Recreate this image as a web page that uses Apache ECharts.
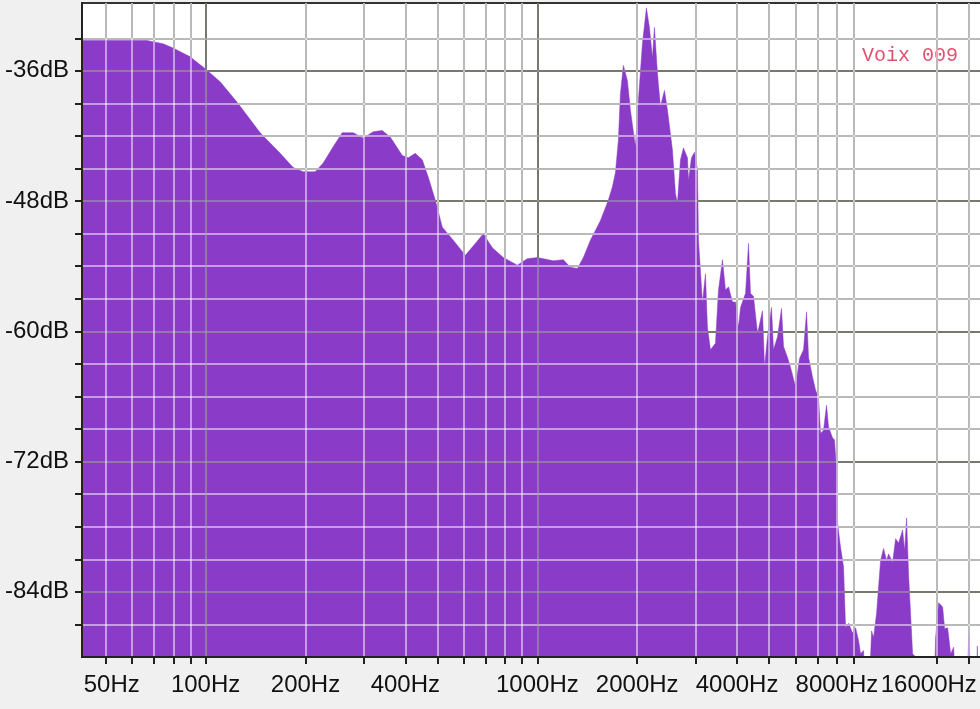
<!DOCTYPE html>
<html>
<head>
<meta charset="utf-8">
<script src="https://cdn.jsdelivr.net/npm/echarts@6/dist/echarts.min.js"></script>
<style>
html,body{margin:0;padding:0;background:#f0f0f0;}
#chart{width:980px;height:709px;}
</style>
</head>
<body>
<div id="chart"></div>
<script>
// Frequencies (Hz) and levels (dB)
var freqs = [42.4, 48, 55.2, 66.5, 74.4, 79.8, 89.8, 99.7, 110.6, 124.5, 146, 167.8, 183.6, 196.8, 213.9, 226.2, 242.4, 258.1, 278.6, 298.7, 320.1, 340.7, 360.2, 391.6, 408.3, 428.6, 449.9, 469.1, 492.4, 517, 557.8, 606.4, 650.2, 687.3, 731.7, 789.5, 870.4, 933, 1000, 1117.6, 1198, 1257.6, 1320.5, 1376.6, 1445.3, 1548.8, 1637.5, 1683, 1719, 1755, 1780, 1817, 1868.6, 1907.8, 1975, 2016.8, 2073.5, 2132, 2177, 2223, 2254, 2301.5, 2349.6, 2416, 2467, 2554, 2608, 2644, 2700, 2757, 2835, 2855, 2915, 2976, 3038.5, 3060, 3102, 3145, 3212, 3256, 3325, 3443, 3516, 3615, 3691, 3769, 3875, 3957, 4040, 4097, 4242, 4331, 4391, 4484, 4610, 4772, 4840, 4941, 5080, 5151, 5297, 5446, 5522, 5677, 5797, 6002, 6171, 6345, 6479, 6569, 6754, 6896, 7041, 7139, 7289, 7443, 7547, 7760, 7868, 7980, 8035, 8204, 8377, 8495, 8675, 8918, 9106, 9297, 9427, 9626, 9759, 9965, 10104, 10174, 10317, 10533, 10831, 11058, 11292, 11450, 11773, 12020, 12274, 12621, 12797, 12975, 13158, 13528, 13814, 14007, 15654, 15871, 16206, 16662, 16896, 17251, 17616, 17986, 18365, 19688, 19966, 20244, 20527, 21000, 21200, 21400, 22050];
var levels = [-33.2, -33.2, -33.2, -33.2, -33.5, -33.9, -34.7, -35.8, -37.0, -38.9, -41.7, -43.6, -44.9, -45.3, -45.3, -44.5, -43.0, -41.7, -41.7, -42.2, -41.6, -41.5, -42.1, -43.8, -44.0, -43.6, -44.2, -45.8, -47.9, -50.4, -51.6, -53.0, -51.9, -51.0, -52.3, -53.2, -53.9, -53.3, -53.2, -53.5, -53.4, -54.1, -54.2, -53.2, -51.6, -49.8, -47.9, -46.7, -45.4, -42.4, -38.1, -35.5, -36.9, -39.6, -43.0, -38.7, -33.5, -30.2, -32.0, -34.8, -32.0, -36.2, -39.3, -37.8, -39.6, -43.3, -47.3, -48.2, -44.2, -43.1, -44.0, -46.1, -44.0, -43.5, -45.1, -51.6, -54.4, -57.4, -54.7, -59.6, -61.7, -61.1, -56.2, -53.4, -56.2, -55.9, -57.3, -57.3, -59.6, -57.8, -56.5, -51.9, -56.5, -56.8, -60.2, -58.1, -63.3, -60.5, -57.8, -61.7, -60.5, -57.9, -61.4, -62.4, -63.3, -65.1, -62.5, -61.7, -58.2, -62.4, -64.2, -65.4, -66.1, -69.4, -69.1, -66.8, -68.8, -69.8, -70.0, -72.8, -77.7, -79.9, -81.7, -87.3, -86.9, -87.8, -87.3, -88.5, -89.7, -89.4, -95, -95, -95, -87.6, -88.2, -86.0, -81.1, -80.0, -81.1, -80.5, -81.3, -79.1, -79.5, -78.3, -80.2, -77.2, -82.5, -89.7, -90, -95, -95, -88.2, -85.0, -85.4, -87.4, -87.3, -89.7, -89.1, -95, -95, -88.0, -88.0, -95, -95, -89, -95, -95];

// Axis ticks and labels
var xTickHz = [50, 60, 70, 80, 90, 100, 200, 300, 400, 500, 600, 700, 800, 900, 1000, 2000, 3000, 4000, 5000, 6000, 7000, 8000, 9000, 16000, 20000];
var xMajorHz = [100, 1000];
var xLabelHz = [50, 100, 200, 400, 1000, 2000, 4000, 8000, 16000];
var yTicks = [-87, -84, -81, -78, -75, -72, -69, -66, -63, -60, -57, -54, -51, -48, -45, -42, -39, -36, -33];
var yLabels = [-84, -72, -60, -48, -36];
var chartLabel = 'Voix 009';

var lg = function (v) { return Math.log10(v); };
var xTicks = xTickHz.map(lg);
var xLabelVals = xLabelHz.map(lg);
var xMin = lg(42.4), xMax = lg(22050);
var yMin = -90, yMax = -29.75;

var data = freqs.map(function (f, i) { return [lg(f), levels[i]]; });

var underMinor = '#727272', underMajor = '#444444';
var overMinor = 'rgba(255,255,255,0.5)', overMajor = 'rgba(160,165,150,0.55)';
var xUnderColors = xTickHz.map(function (v) { return xMajorHz.indexOf(v) >= 0 ? underMajor : underMinor; });
var xOverColors = xTickHz.map(function (v) { return xMajorHz.indexOf(v) >= 0 ? overMajor : overMinor; });
var yUnderColors = yTicks.map(function (v) { return yLabels.indexOf(v) >= 0 ? underMajor : underMinor; });
var yOverColors = yTicks.map(function (v) { return yLabels.indexOf(v) >= 0 ? overMajor : overMinor; });

var font = 'Liberation Sans, Arial, sans-serif';
var richBase = { fontSize: 24, fontFamily: font, color: '#111' };
function rich(pad) { var o = Object.assign({}, richBase); o.padding = pad; return o; }

var chart = echarts.init(document.getElementById('chart'), null, { renderer: 'canvas' });
chart.setOption({
  backgroundColor: '#f0f0f0',
  animation: false,
  title: {
    text: chartLabel, left: 862, top: 46, padding: 0,
    textStyle: { fontFamily: 'Liberation Mono, Courier New, monospace', fontSize: 20, fontWeight: 'normal', color: '#e2506f' }
  },
  grid: {
    left: 82, top: 3, width: 901, height: 654,
    show: true, backgroundColor: '#ffffff', borderColor: '#333333', borderWidth: 2,
    outerBoundsMode: 'none', containLabel: false
  },
  xAxis: [
    {
      type: 'value', min: xMin, max: xMax, z: 0,
      axisLine: { show: false, onZero: false },
      axisTick: { show: false, customValues: xTicks },
      axisLabel: { show: false },
      splitLine: { show: true, lineStyle: { color: xUnderColors, width: 2 } }
    },
    {
      type: 'value', min: xMin, max: xMax, z: 10, position: 'bottom',
      axisLine: { show: true, onZero: false, lineStyle: { color: '#222', width: 2 } },
      axisTick: { show: true, customValues: xTicks, length: 7, lineStyle: { color: '#222', width: 2 } },
      axisLabel: {
        show: true, customValues: xLabelVals, margin: 16,
        formatter: function (v) {
          var hz = Math.round(Math.pow(10, v));
          if (hz === 50) return '{l|' + hz + 'Hz}';
          if (hz === 16000) return '{r|' + hz + 'Hz}';
          return '{n|' + hz + 'Hz}';
        },
        rich: { n: rich([0, 0, 0, 0]), l: rich([0, 0, 0, 12]), r: rich([0, 16, 0, 0]) },
        fontSize: 24, fontFamily: font, color: '#111'
      },
      splitLine: { show: true, lineStyle: { color: xOverColors, width: 2 } }
    }
  ],
  yAxis: [
    {
      type: 'value', min: yMin, max: yMax, z: 0,
      axisLine: { show: false, onZero: false },
      axisTick: { show: false, customValues: yTicks },
      axisLabel: { show: false },
      splitLine: { show: true, lineStyle: { color: yUnderColors, width: 2 } }
    },
    {
      type: 'value', min: yMin, max: yMax, z: 10, position: 'left',
      axisLine: { show: true, onZero: false, lineStyle: { color: '#222', width: 2 } },
      axisTick: { show: true, customValues: yTicks, length: 7, lineStyle: { color: '#222', width: 2 } },
      axisLabel: {
        show: true, customValues: yLabels, margin: 13,
        formatter: function (v) { return v + 'dB'; },
        fontSize: 24, fontFamily: font, color: '#111'
      },
      splitLine: { show: true, lineStyle: { color: yOverColors, width: 2 } }
    }
  ],
  series: [{
    type: 'line',
    xAxisIndex: 0, yAxisIndex: 0,
    data: data,
    showSymbol: false, symbol: 'none',
    clip: true,
    lineStyle: { width: 0.5, color: '#8a3bc7' },
    areaStyle: { color: '#8a3bc7', opacity: 1, origin: 'start' },
    z: 2
  }]
});
</script>
</body>
</html>
